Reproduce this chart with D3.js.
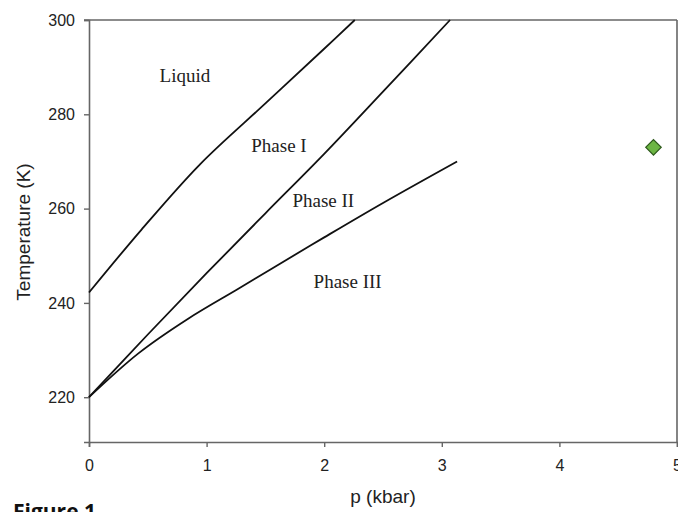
<!DOCTYPE html>
<html>
<head>
<meta charset="utf-8">
<script src="https://cdn.jsdelivr.net/npm/d3@7"></script>
<style>
  body { margin: 0; background: #fff; }
  svg { display: block; }
</style>
</head>
<body>
<script>
var width = 678;
var height = 512;

// phase boundary curves, p in kbar, T in K
var liquidP = [0, 0.445, 0.944, 1.5, 2, 2.26];
var liquidT = [242.2, 255.5, 269.4, 282.3, 293.9, 300];
var oneTwoP = [0, 0.5, 1, 1.5, 2, 2.5, 3.07];
var oneTwoT = [220, 233.3, 246.3, 259, 271.6, 284.8, 300];
var twoThreeP = [0, 0.42, 0.84, 1.27, 1.55, 2, 2.5, 3.13];
var twoThreeT = [220, 229.3, 236.6, 243, 247.2, 253.9, 261.2, 270];

var pointP = [4.8];
var pointT = [273];

var phaseNames = ["Liquid", "Phase I", "Phase II", "Phase III"];
var phaseP = [0.6, 1.38, 1.73, 1.91];
var phaseT = [286.9, 272, 260.3, 243.2];

var xTicks = [0, 1, 2, 3, 4, 5];
var yTicks = [220, 240, 260, 280, 300];

var x = d3.scaleLinear().domain([0, 5]).range([89, 677]);
var y = d3.scaleLinear().domain([210.5, 300]).range([442, 20]);

var svg = d3.select("body").append("svg")
    .attr("width", width)
    .attr("height", height);

var axisColor = "#666";

// frame top / right
svg.append("line")
    .attr("x1", x(0) - 5).attr("x2", x(5))
    .attr("y1", y(300)).attr("y2", y(300))
    .style("stroke", axisColor).style("stroke-width", 1.6);
svg.append("line")
    .attr("x1", x(5)).attr("x2", x(5))
    .attr("y1", y(300)).attr("y2", y(210.5))
    .style("stroke", axisColor).style("stroke-width", 1.6);

var xAxis = svg.append("g")
    .attr("transform", "translate(0," + y(210.5) + ")")
    .call(d3.axisBottom(x).tickValues(xTicks).tickFormat(d3.format("d")).tickSizeOuter(0).tickSize(5).tickPadding(13));
var yAxis = svg.append("g")
    .attr("transform", "translate(" + x(0) + ",0)")
    .call(d3.axisLeft(y).tickValues(yTicks).tickSizeOuter(0).tickSize(5).tickPadding(9));

[xAxis, yAxis].forEach(function (a) {
  a.select(".domain").style("stroke", axisColor).style("stroke-width", 1.6);
  a.selectAll(".tick line").style("stroke", axisColor).style("stroke-width", 1.4);
  a.selectAll(".tick text")
    .style("font-family", "Liberation Sans, Arial, sans-serif")
    .style("font-size", "16px")
    .style("fill", "#222");
});

var line = d3.line()
    .x(function (d) { return x(d[0]); })
    .y(function (d) { return y(d[1]); })
    .curve(d3.curveCatmullRom);

[[liquidP, liquidT], [oneTwoP, oneTwoT], [twoThreeP, twoThreeT]].forEach(function (c) {
  var pts = c[0].map(function (p, i) { return [p, c[1][i]]; });
  svg.append("path")
    .datum(pts)
    .attr("d", line)
    .style("fill", "none")
    .style("stroke", "#111")
    .style("stroke-width", 1.8);
});

svg.selectAll(".phase")
    .data(phaseNames)
  .enter().append("text")
    .attr("class", "phase")
    .attr("x", function (d, i) { return x(phaseP[i]); })
    .attr("y", function (d, i) { return y(phaseT[i]); })
    .style("font-family", "Liberation Serif, Times New Roman, serif")
    .style("font-size", "19px")
    .style("fill", "#222")
    .text(function (d) { return d; });

svg.selectAll(".pt")
    .data(pointP)
  .enter().append("path")
    .attr("class", "pt")
    .attr("d", d3.symbol(d3.symbolSquare, 120))
    .attr("transform", function (d, i) { return "translate(" + x(d) + "," + y(pointT[i]) + ") rotate(45)"; })
    .style("fill", "#6cb543")
    .style("stroke", "#2e5a1c")
    .style("stroke-width", 1.2);

svg.append("text")
    .attr("x", 383)
    .attr("y", 503)
    .attr("text-anchor", "middle")
    .style("font-family", "Liberation Sans, Arial, sans-serif")
    .style("font-size", "19px")
    .style("fill", "#222")
    .text("p (kbar)");

svg.append("text")
    .attr("transform", "translate(30,232) rotate(-90)")
    .attr("text-anchor", "middle")
    .style("font-family", "Liberation Sans, Arial, sans-serif")
    .style("font-size", "19px")
    .style("fill", "#222")
    .text("Temperature (K)");

svg.append("text")
    .attr("x", 13)
    .attr("y", 519)
    .style("font-family", "Open Sans, sans-serif")
    .style("font-weight", "bold")
    .style("font-size", "21px")
    .style("fill", "#111")
    .text("Figure 1");
</script>
</body>
</html>
